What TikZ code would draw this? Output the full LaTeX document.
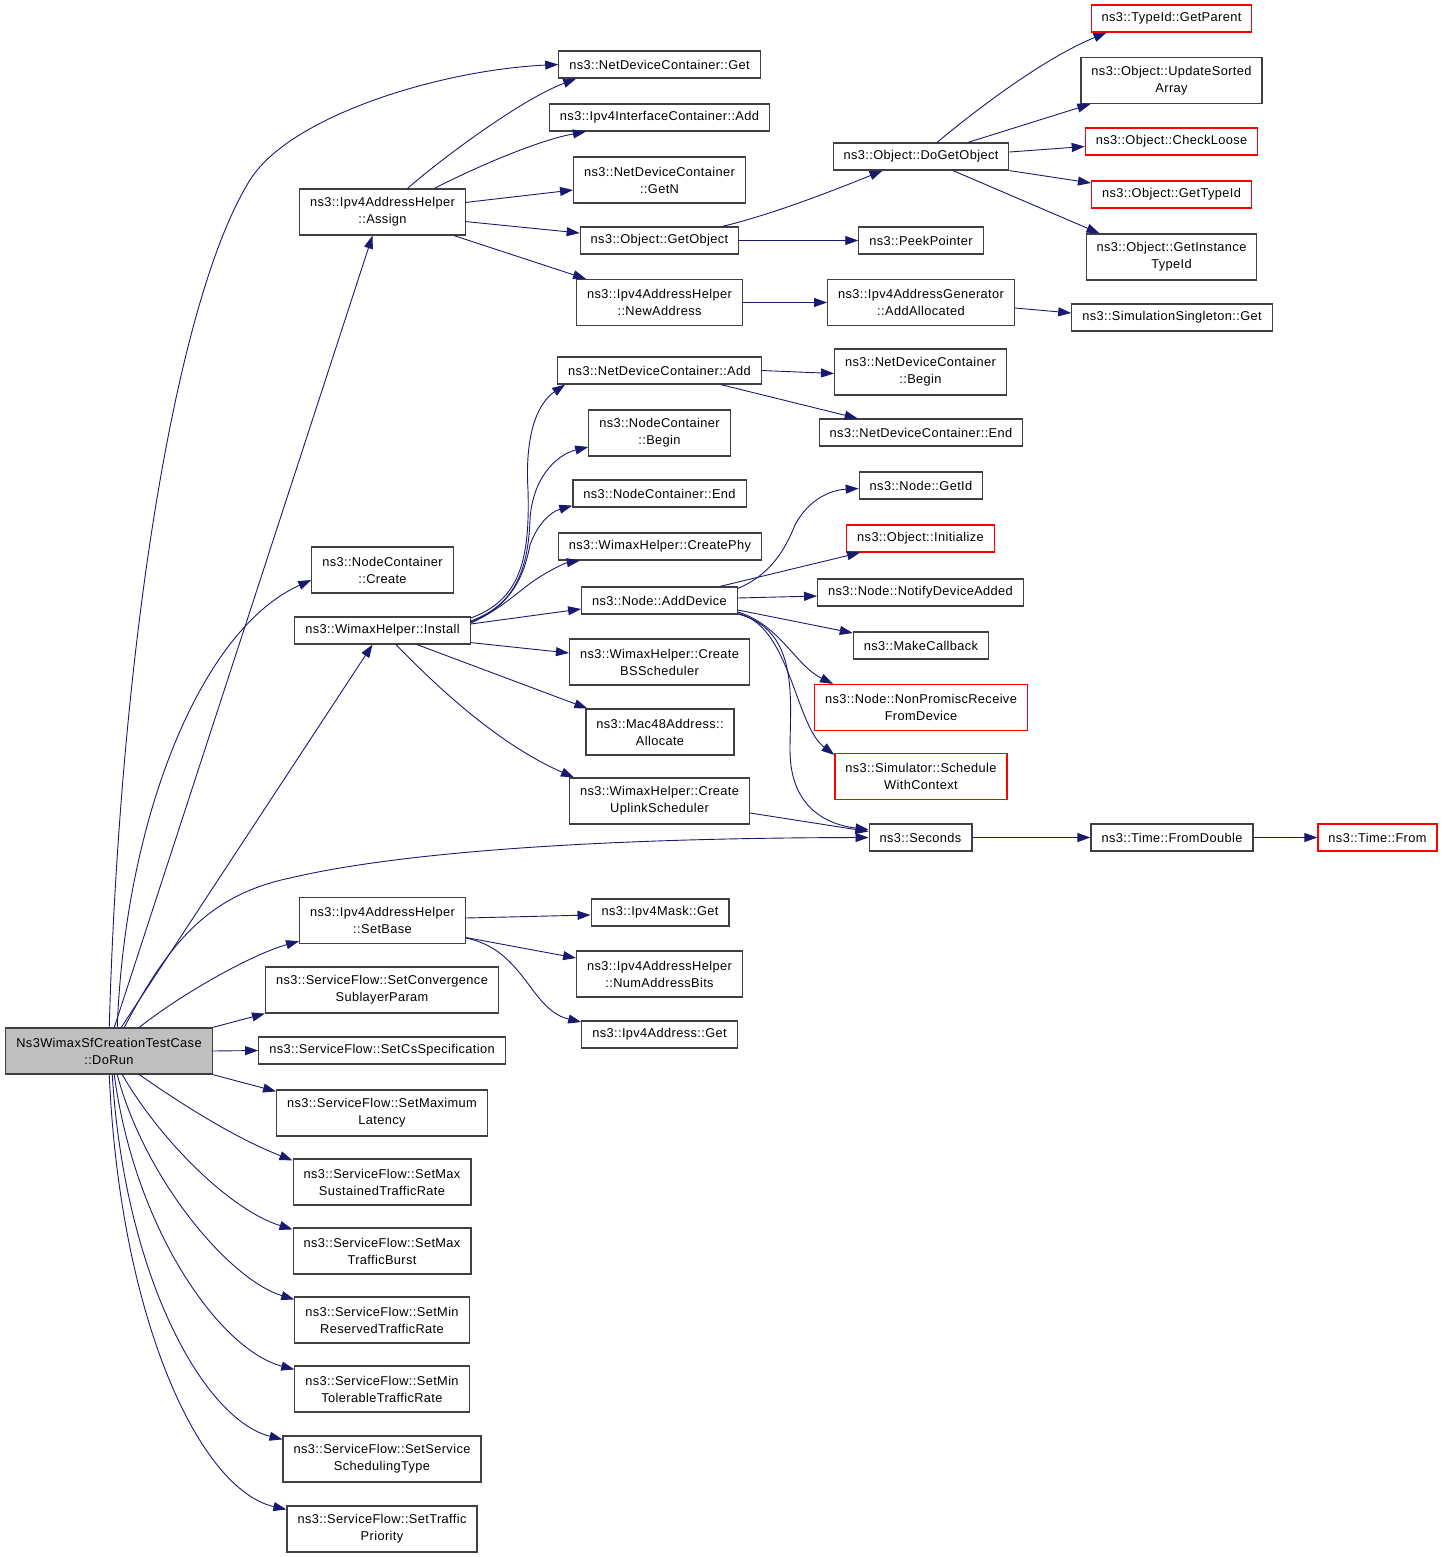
\documentclass[tikz,border=0pt]{standalone}
\usepackage{fontspec}
\usetikzlibrary{arrows.meta}
\newfontfamily\graphfont[LetterSpace=3]{Liberation Sans}
\newcommand\fnfont{\graphfont\fontsize{12.8}{17}\selectfont}
\definecolor{edgeblue}{RGB}{25,25,112}
\definecolor{boxgray}{RGB}{64,64,64}
\definecolor{rootgray}{RGB}{191,191,191}
\tikzset{
	fn/.style={draw=boxgray, line width=1.2pt, fill=white, inner xsep=10.5pt, inner ysep=2pt, minimum height=27pt, font=\fnfont},
	fntwo/.style={fn, align=center, minimum height=46pt},
	fnred/.style={draw=red},
	call/.style={draw=edgeblue, line width=0.9pt, -{Triangle[length=13pt,width=9pt]}},
}
\begin{document}
\begin{tikzpicture}[x=1pt, y=-1pt]
	\useasboundingbox (0,0) rectangle (1443,1557);

	% root
	\node[fntwo, fill=rootgray] (dorun) at (109,1051) {Ns3WimaxSfCreationTestCase\\::DoRun};

	% Assign and its callees
	\node[fn] (ndcget) at (659.5,64.5) {ns3::NetDeviceContainer::Get};
	\node[fn] (icadd) at (659.5,117.5) {ns3::Ipv4InterfaceContainer::Add};
	\node[fntwo] (getn) at (659.5,180) {ns3::NetDeviceContainer\\::GetN};
	\node[fn] (getobject) at (659.5,240.5) {ns3::Object::GetObject};
	\node[fntwo] (newaddr) at (659.5,302.5) {ns3::Ipv4AddressHelper\\::NewAddress};
	\node[fntwo] (assign) at (382.5,212) {ns3::Ipv4AddressHelper\\::Assign};
	\node[fn] (dogetobject) at (921,156.5) {ns3::Object::DoGetObject};
	\node[fn] (peek) at (921,240.5) {ns3::PeekPointer};
	\node[fntwo] (addalloc) at (921,302.5) {ns3::Ipv4AddressGenerator\\::AddAllocated};
	\node[fn] (simget) at (1172,317.5) {ns3::SimulationSingleton::Get};
	\node[fn, fnred] (getparent) at (1171.5,18.5) {ns3::TypeId::GetParent};
	\node[fntwo] (updsorted) at (1171.5,80.5) {ns3::Object::UpdateSorted\\Array};
	\node[fn, fnred] (checkloose) at (1171.5,141.5) {ns3::Object::CheckLoose};
	\node[fn, fnred] (gettypeid) at (1171.5,194.5) {ns3::Object::GetTypeId};
	\node[fntwo] (getinst) at (1171.5,257) {ns3::Object::GetInstance\\TypeId};

	% Install and its callees
	\node[fn] (ndcadd) at (659.5,370.5) {ns3::NetDeviceContainer::Add};
	\node[fntwo] (ncbegin) at (659.5,433) {ns3::NodeContainer\\::Begin};
	\node[fn] (ncend) at (659.5,493.5) {ns3::NodeContainer::End};
	\node[fn] (createphy) at (660,546.5) {ns3::WimaxHelper::CreatePhy};
	\node[fn] (adddevice) at (659.5,600.5) {ns3::Node::AddDevice};
	\node[fntwo] (createbs) at (659.5,662) {ns3::WimaxHelper::Create\\BSScheduler};
	\node[fntwo] (mac48) at (660,732) {ns3::Mac48Address::\\Allocate};
	\node[fntwo] (uplink) at (659.5,801) {ns3::WimaxHelper::Create\\UplinkScheduler};
	\node[fntwo] (ndcbegin) at (920.5,372) {ns3::NetDeviceContainer\\::Begin};
	\node[fn] (ndcend) at (921,432.5) {ns3::NetDeviceContainer::End};
	\node[fn] (getid) at (921,485.5) {ns3::Node::GetId};
	\node[fn, fnred] (initialize) at (920.5,538.5) {ns3::Object::Initialize};
	\node[fn] (notify) at (920.5,592.5) {ns3::Node::NotifyDeviceAdded};
	\node[fn] (makecb) at (921,645.5) {ns3::MakeCallback};
	\node[fntwo, fnred] (nonpromisc) at (921,707.5) {ns3::Node::NonPromiscReceive\\FromDevice};
	\node[fntwo, fnred] (schedule) at (921,776.5) {ns3::Simulator::Schedule\\WithContext};
	\node[fn] (seconds) at (920.5,837.5) {ns3::Seconds};
	\node[fn] (fromdouble) at (1172,837.5) {ns3::Time::FromDouble};
	\node[fn, fnred] (timefrom) at (1377.5,837.5) {ns3::Time::From};
	\node[fntwo] (create) at (382.5,570) {ns3::NodeContainer\\::Create};
	\node[fn] (install) at (382.5,630.5) {ns3::WimaxHelper::Install};

	% SetBase and its callees
	\node[fntwo] (setbase) at (382.5,920.5) {ns3::Ipv4AddressHelper\\::SetBase};
	\node[fn] (maskget) at (660,912.5) {ns3::Ipv4Mask::Get};
	\node[fntwo] (numbits) at (659.5,974) {ns3::Ipv4AddressHelper\\::NumAddressBits};
	\node[fn] (addrget) at (659.5,1034.5) {ns3::Ipv4Address::Get};

	% service flow setters
	\node[fntwo] (convergence) at (382,990) {ns3::ServiceFlow::SetConvergence\\SublayerParam};
	\node[fn] (csspec) at (382,1050.5) {ns3::ServiceFlow::SetCsSpecification};
	\node[fntwo] (latency) at (382,1113) {ns3::ServiceFlow::SetMaximum\\Latency};
	\node[fntwo] (sustained) at (382,1182) {ns3::ServiceFlow::SetMax\\SustainedTrafficRate};
	\node[fntwo] (burst) at (382,1251) {ns3::ServiceFlow::SetMax\\TrafficBurst};
	\node[fntwo] (reserved) at (382,1320) {ns3::ServiceFlow::SetMin\\ReservedTrafficRate};
	\node[fntwo] (tolerable) at (382,1389) {ns3::ServiceFlow::SetMin\\TolerableTrafficRate};
	\node[fntwo] (schedtype) at (382,1459) {ns3::ServiceFlow::SetService\\SchedulingType};
	\node[fntwo] (priority) at (382,1529) {ns3::ServiceFlow::SetTraffic\\Priority};

	% calls from DoRun
	\draw[call] ([xshift=104pt]dorun.north west) .. controls (120,650) and (175,300) .. (250,180) .. controls (290,116) and (440,70) .. (ndcget.west);
	\draw[call] ([xshift=109pt]dorun.north west) -- ([xshift=-10pt]assign.south);
	\draw[call] ([xshift=112pt]dorun.north west) .. controls (125,820) and (200,630) .. ([yshift=-10pt]create.west);
	\draw[call] ([xshift=116pt]dorun.north west) -- ([xshift=-10pt]install.south);
	\draw[call] ([xshift=119pt]dorun.north west) .. controls (170,940) and (210,895) .. (290,878) .. controls (400,852) and (600,838) .. (seconds.west);
	\draw[call] ([xshift=134pt]dorun.north west) .. controls (180,995) and (250,955) .. ([yshift=3pt]setbase.south west);
	\draw[call] (dorun.north east) -- (convergence.south west);
	\draw[call] (dorun.east) -- (csspec.west);
	\draw[call] (dorun.south east) -- ([yshift=-2pt]latency.north west);
	\draw[call] ([xshift=134pt]dorun.south west) .. controls (190,1110) and (240,1140) .. ([yshift=-2pt]sustained.north west);
	\draw[call] ([xshift=117pt]dorun.south west) .. controls (160,1140) and (230,1210) .. ([yshift=-2pt]burst.north west);
	\draw[call] ([xshift=112pt]dorun.south west) .. controls (145,1180) and (230,1280) .. ([yshift=-3pt]reserved.north west);
	\draw[call] ([xshift=109pt]dorun.south west) .. controls (135,1230) and (220,1350) .. ([yshift=-4pt]tolerable.north west);
	\draw[call] ([xshift=107pt]dorun.south west) .. controls (125,1280) and (205,1420) .. ([yshift=-4pt]schedtype.north west);
	\draw[call] ([xshift=104pt]dorun.south west) .. controls (120,1320) and (200,1490) .. ([yshift=-4pt]priority.north west);

	% calls from Assign
	\draw[call] ([xshift=25pt]assign.north) .. controls (440,160) and (520,100) .. ([xshift=18pt]ndcget.south west);
	\draw[call] ([xshift=52pt]assign.north) .. controls (480,165) and (540,140) .. ([xshift=37pt]icadd.south west);
	\draw[call] ([yshift=-14pt]assign.north east) -- ([yshift=-10pt]getn.west);
	\draw[call] ([yshift=14pt]assign.south east) -- ([yshift=7.5pt]getobject.west);
	\draw[call] ([xshift=-12pt]assign.south east) -- ([xshift=10pt]newaddr.north west);
	\draw[call] ([xshift=-17pt]getobject.north east) .. controls (770,215) and (830,192) .. ([xshift=50pt]dogetobject.south west);
	\draw[call] (getobject.east) -- (peek.west);
	\draw[call] (newaddr.east) -- (addalloc.west);
	\draw[call] ([yshift=-5.5pt]addalloc.east) -- ([yshift=4.5pt]simget.west);

	% calls from DoGetObject
	\draw[call] ([xshift=16pt]dogetobject.north) .. controls (970,115) and (1040,60) .. ([xshift=16pt]getparent.south west);
	\draw[call] ([xshift=47pt]dogetobject.north) -- ([xshift=10pt]updsorted.south west);
	\draw[call] ([yshift=4.5pt]dogetobject.east) -- ([yshift=-5pt]checkloose.west);
	\draw[call] (dogetobject.south east) -- ([yshift=11.5pt]gettypeid.west);
	\draw[call] ([xshift=32pt]dogetobject.south) -- ([xshift=14pt]getinst.north west);

	% calls from Install
	\draw[call] ([yshift=12.5pt]install.east) .. controls (520,600) and (530,560) .. (528,490) .. controls (525,440) and (535,405) .. ([xshift=8pt]ndcadd.south west);
	\draw[call] ([yshift=9.5pt]install.east) .. controls (515,605) and (528,570) .. (530,520) .. controls (532,480) and (555,455) .. ([yshift=-14pt]ncbegin.west);
	\draw[call] ([yshift=8.5pt]install.east) .. controls (515,605) and (525,570) .. (530,545) .. controls (537,525) and (550,512) .. ([yshift=2pt]ncend.south west);
	\draw[call] ([yshift=7.5pt]install.east) .. controls (500,610) and (520,590) .. (535,580) .. controls (550,570) and (565,563) .. ([xshift=22pt]createphy.south west);
	\draw[call] ([yshift=6.5pt]install.east) -- ([yshift=-8.5pt]adddevice.west);
	\draw[call] ([yshift=2pt]install.south east) -- ([yshift=9pt]createbs.west);
	\draw[call] ([xshift=34.5pt]install.south) -- ([xshift=2pt]mac48.north west);
	\draw[call] ([xshift=13.5pt]install.south) .. controls (440,690) and (500,745) .. ([xshift=5pt]uplink.north west);
	\draw[call] (ndcadd.east) -- ([yshift=-1.5pt]ndcbegin.west);
	\draw[call] ([xshift=-41pt]ndcadd.south east) -- ([xshift=39pt]ndcend.north west);

	% calls from AddDevice
	\draw[call] ([yshift=-2pt]adddevice.north east) .. controls (770,575) and (785,550) .. (795,525) .. controls (808,500) and (830,490) .. ([yshift=-3pt]getid.west);
	\draw[call] ([xshift=60.5pt]adddevice.north) -- ([xshift=14pt]initialize.south west);
	\draw[call] ([yshift=2.5pt]adddevice.east) -- ([yshift=-3.5pt]notify.west);
	\draw[call] ([yshift=-9.5pt]adddevice.east) -- ([yshift=12.5pt]makecb.west);
	\draw[call] ([yshift=-11.5pt]adddevice.east) .. controls (780,625) and (795,665) .. ([xshift=19pt]nonpromisc.north west);
	\draw[call] ([yshift=-13pt]adddevice.east) .. controls (790,625) and (795,725) .. ([yshift=-2pt]schedule.north west);
	\draw[call] ([yshift=-13.5pt]adddevice.east) .. controls (800,630) and (790,700) .. (790,750) .. controls (790,810) and (830,825) .. ([yshift=8pt]seconds.west);
	\draw[call] ([yshift=-12pt]uplink.east) -- ([yshift=6pt]seconds.west);
	\draw[call] (seconds.east) -- (fromdouble.west);
	\draw[call] (fromdouble.east) -- (timefrom.west);

	% calls from SetBase
	\draw[call] ([yshift=2.5pt]setbase.east) -- ([yshift=-2.5pt]maskget.west);
	\draw[call] ([yshift=-17pt]setbase.east) -- ([yshift=16pt]numbits.west);
	\draw[call] ([yshift=-17.5pt]setbase.east) .. controls (525,950) and (530,1010) .. ([yshift=12.5pt]addrget.west);
\end{tikzpicture}
\end{document}
